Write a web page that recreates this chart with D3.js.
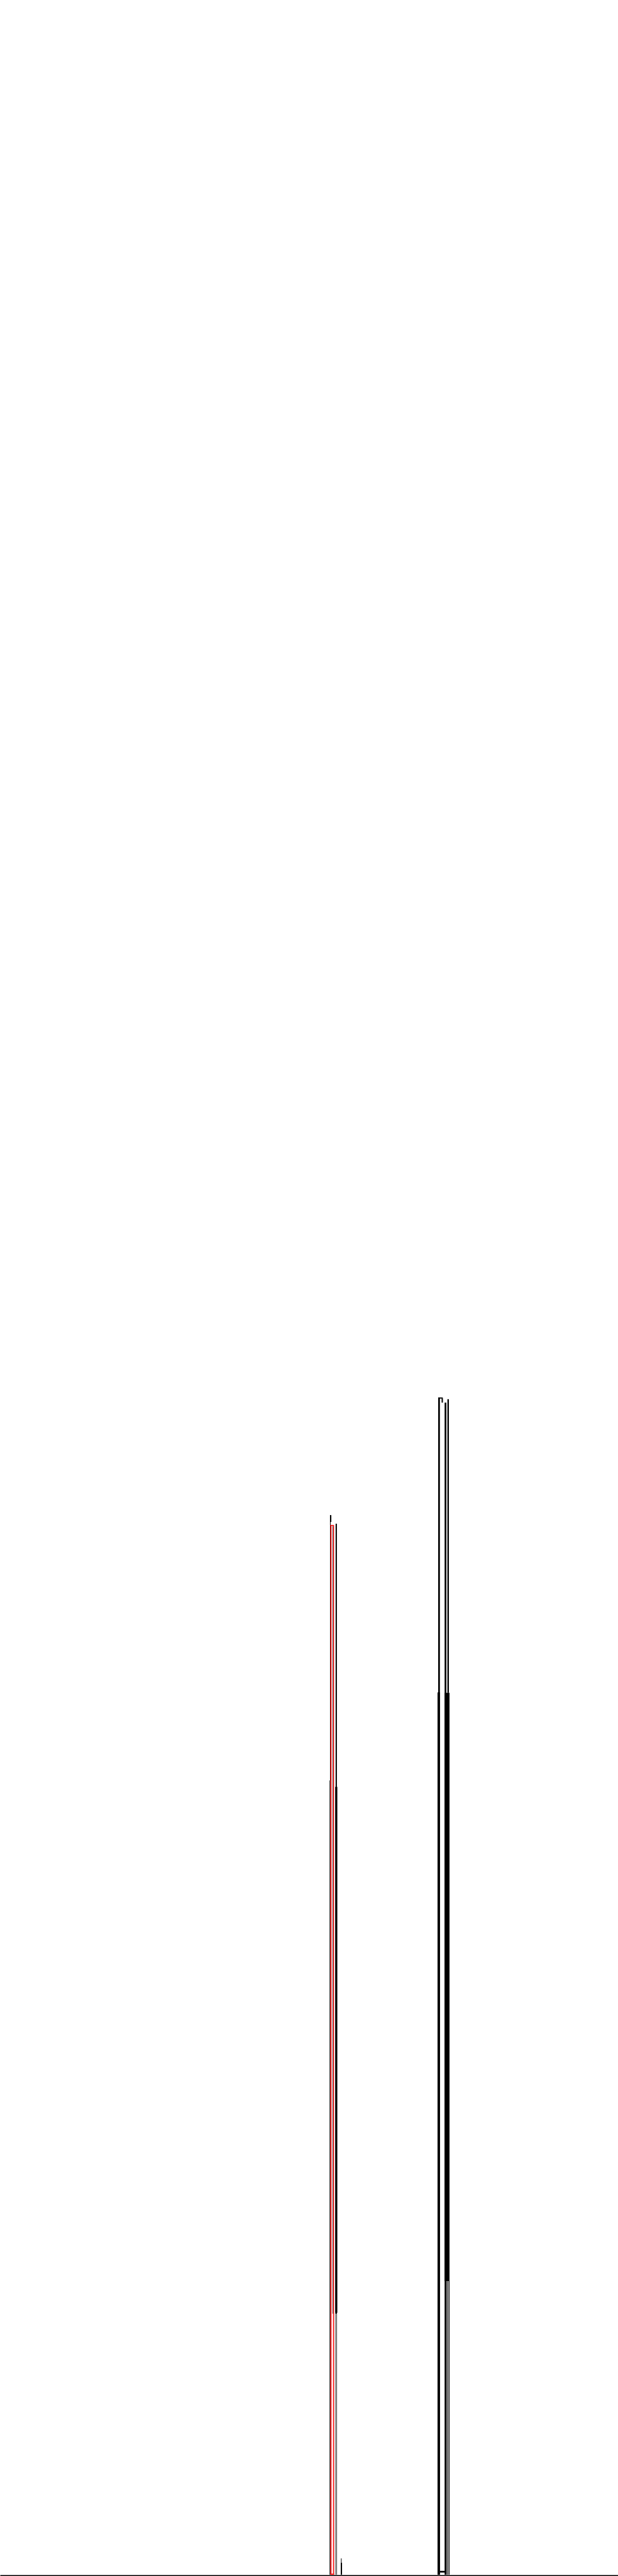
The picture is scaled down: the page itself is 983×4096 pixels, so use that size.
<!DOCTYPE html>
<html>
<head>
<meta charset="utf-8">
<script src="https://cdn.jsdelivr.net/npm/d3@7"></script>
<style>
  html, body { margin: 0; padding: 0; background: #ffffff; }
  svg { display: block; }
</style>
</head>
<body>
<script>
// Values (horizontal position units 0..1440, heights above baseline 0..5997)
const markLeft   = [768, 769, 769, 770, 776, 770, 770, 774.7, 782, 781, 780.7, 783.7, 794.5, 794,
                    1021, 1019.5, 1021, 1029, 1036, 1042.5, 1041, 1045, 1036, 1025];
const markRight  = [770, 770.5, 772, 772.3, 778.3, 778.3, 778.3, 775.7, 785, 786, 781.7, 785, 796, 797,
                    1025, 1025, 1031.7, 1032, 1040, 1046, 1043, 1047.3, 1047, 1040];
const markTop    = [1850, 2468, 2468, 2445, 2443, 2445, 2.3, 2443, 2448, 1835, 610, 610, 38, 28,
                    2742, 2055, 2742, 2740, 2730, 2738, 2054, 2054, 2054, 9];
const markBase   = [0, 1850, 2452, 0, 0, 2443, 0, 608, 608, 610, 0, 0, 28, 0,
                    0, 0, 2739.5, 2730, 0, 2054, 0, 0, 684, 5];
const markColor  = ["#000", "#000", "#000", "#ff0000", "#ff0000", "#ff0000", "#ff0000", "#000", "#000", "#000", "#000", "#000", "#000", "#000",
                    "#000", "#000", "#000", "#000", "#000", "#000", "#000", "#000", "#000", "#000"];

const W = 983, H = 4096;
const k = H / 6000;
const baseY = 5997 * k;

const x = d3.scaleLinear().domain([0, 1440]).range([0, W]);
const y = d3.scaleLinear().domain([0, 5997]).range([baseY, 0]);

const svg = d3.select("body").append("svg")
  .attr("width", W).attr("height", H)
  .attr("viewBox", `0 0 ${W} ${H}`);

svg.append("rect").attr("width", W).attr("height", H).attr("fill", "#ffffff");

const marks = markLeft.map((l, i) => ({
  l, r: markRight[i], t: markTop[i], b: markBase[i], c: markColor[i]
}));

svg.append("g")
  .selectAll("rect")
  .data(marks)
  .join("rect")
  .attr("x", d => x(d.l))
  .attr("width", d => Math.max(0.6, x(d.r) - x(d.l)))
  .attr("y", d => y(d.t))
  .attr("height", d => Math.max(0.6, y(d.b) - y(d.t)))
  .attr("fill", d => d.c);

// baseline axis
const axis = d3.axisBottom(x).tickValues([]).tickSizeOuter(0);
const ag = svg.append("g")
  .attr("transform", `translate(0, ${baseY + 1})`)
  .call(axis);
ag.select(".domain").attr("stroke", "#000").attr("stroke-width", 2);
</script>
</body>
</html>
